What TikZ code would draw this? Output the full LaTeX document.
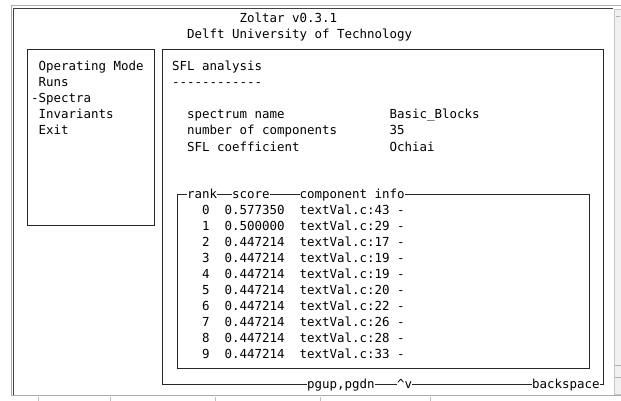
\documentclass[tikz,border=0pt]{standalone}
\usepackage{fontspec}
\setmonofont{DejaVu Sans Mono}
\usetikzlibrary{positioning}

\begin{document}
\begin{tikzpicture}[x=1pt, y=-1pt, every node/.style={font=\ttfamily\fontsize{12.46}{15}\selectfont, inner sep=0pt, anchor=base west}]
\tikzset{
  termline/.style={draw=black!85, line width=1pt},
  frameline/.style={draw=gray!65, line width=1.3pt},
  onlabel/.style={fill=white, inner ysep=1pt},
}
\useasboundingbox (0,0) rectangle (621,401);
\fill[white] (0,0) rectangle (621,401);

% window frame and scrollbar
\draw[frameline] (11.5,396) -- (11.5,5.5) -- (621,5.5);
\draw[black!75, line width=0.8pt] (13.6,394.5) -- (13.6,8) -- (613,8);
\draw[frameline] (11,395.5) -- (621,395.5);
\draw[gray!45, fill=gray!12] (614.5,9) rectangle (622,394);
\draw[gray!60] (616,16) -- (620,16);
\draw[gray!60] (614.5,365) -- (621,365) (614.5,377) -- (621,377);
\draw[gray!50] (38,397) -- (38,401) (110,397) -- (110,401) (215,397) -- (215,401)
  (320,397) -- (320,401) (430,397) -- (430,401);

% title
\node (title) at (239.5,23) {Zoltar v0.3.1};
\node (place) at (187,39) {Delft University of Technology};

% menu window
\draw[termline] (27,50) rectangle (154,225);
\node (mode) at (31,71) {\ Operating Mode};
\node (runs) at (31,87) {\ Runs};
\node (spectra) at (31,103) {-Spectra};
\node (invariants) at (31,119) {\ Invariants};
\node (exit) at (31,135) {\ Exit};

% analysis window
\draw[termline] (162,50) rectangle (603,384);
\node (heading) at (172,71) {SFL analysis};
\node (rule) at (172,87) {------------};
\node (specname) at (187,119) {spectrum name};
\node (specval) at (389.5,119) {Basic\_Blocks};
\node (compname) at (187,135) {number of components};
\node (compval) at (389.5,135) {35};
\node (coefname) at (187,151) {SFL coefficient};
\node (coefval) at (389.5,151) {Ochiai};

% ranking table
\draw[termline] (177,194) rectangle (589,368);
\node[onlabel] (hrank) at (187,198.5) {rank};
\node[onlabel] (hscore) at (232,198.5) {score};
\node[onlabel] (hinfo) at (299.5,198.5) {component info};
\foreach \r/\s/\l [count=\i from 0] in {0/0.577350/43, 1/0.500000/29, 2/0.447214/17,
    3/0.447214/19, 4/0.447214/19, 5/0.447214/20, 6/0.447214/22,
    7/0.447214/26, 8/0.447214/28, 9/0.447214/33}
{
  \node (rank\i) at (202,214.5+16*\i) {\r};
  \node (score\i) at (224.5,214.5+16*\i) {\s};
  \node (info\i) at (299.5,214.5+16*\i) {textVal.c:\l{} -};
}

% key hints on the bottom border
\node[onlabel] (pgkeys) at (307,388.5) {pgup,pgdn};
\node[onlabel] (arrows) at (397,388.5) {\^{}v};
\node[onlabel] (back) at (532,388.5) {backspace};

\end{tikzpicture}
\end{document}
